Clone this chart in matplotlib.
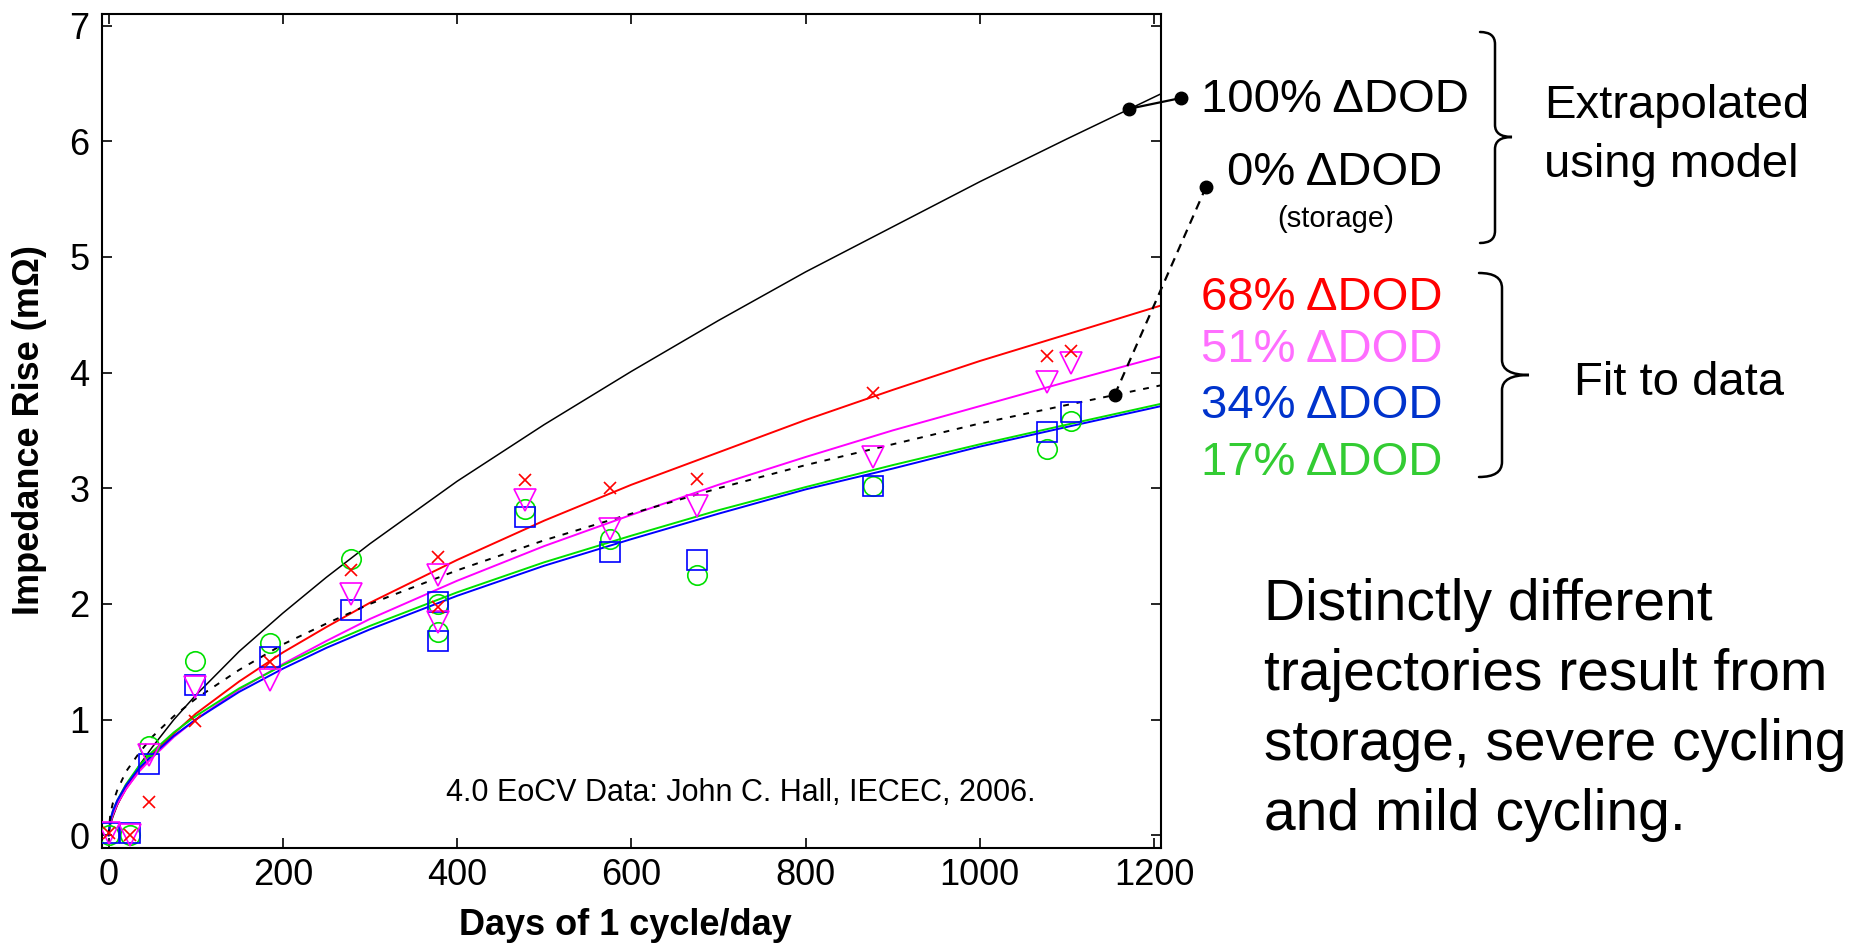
import matplotlib
matplotlib.use("Agg")
import matplotlib.pyplot as plt
from matplotlib.path import Path
from matplotlib.patches import PathPatch


# measured observations (days on test, impedance rise in mOhm)
obsDays = [0, 25, 47, 99, 185, 278, 378, 378, 478, 575, 675, 877, 1077, 1105]
obs68 = [0.02, 0.0, 0.29, 0.99, 1.50, 2.29, 2.41, 1.97, 3.07, 3.00, 3.08, 3.82, 4.14, 4.19]
obs51 = [0.02, 0.0, 0.69, 1.28, 1.34, 2.09, 2.25, 1.84, 2.90, 2.65, 2.85, 3.27, 3.92, 4.08]
obs34 = [0.02, 0.02, 0.62, 1.30, 1.54, 1.95, 2.02, 1.68, 2.75, 2.45, 2.38, 3.02, 3.49, 3.66]
obs17 = [0.0, 0.0, 0.77, 1.51, 1.66, 2.39, 2.00, 1.76, 2.82, 2.56, 2.25, 3.02, 3.34, 3.58]

# model curves
curveDays = [0, 2, 5, 10, 20, 35, 50, 75, 100, 150, 200, 250, 300, 400, 500, 600, 700, 800, 900, 1000, 1100, 1208]
fit100 = [0, 0.09, 0.16, 0.26, 0.41, 0.60, 0.76, 1.00, 1.21, 1.59, 1.92, 2.23, 2.52, 3.06, 3.55, 4.01, 4.45, 4.87, 5.26, 5.65, 6.02, 6.41]
fit68 = [0, 0.10, 0.18, 0.27, 0.40, 0.56, 0.70, 0.88, 1.05, 1.33, 1.58, 1.80, 2.01, 2.38, 2.72, 3.03, 3.31, 3.59, 3.85, 4.10, 4.33, 4.58]
fit51 = [0, 0.11, 0.18, 0.27, 0.40, 0.55, 0.67, 0.85, 1.00, 1.26, 1.48, 1.68, 1.87, 2.20, 2.50, 2.77, 3.03, 3.27, 3.50, 3.71, 3.92, 4.14]
fit34 = [0, 0.13, 0.21, 0.30, 0.43, 0.58, 0.69, 0.86, 1.00, 1.24, 1.44, 1.62, 1.78, 2.07, 2.33, 2.56, 2.78, 2.99, 3.17, 3.36, 3.53, 3.71]
fit17 = [0, 0.13, 0.21, 0.30, 0.44, 0.60, 0.72, 0.89, 1.03, 1.27, 1.47, 1.65, 1.81, 2.10, 2.36, 2.59, 2.81, 3.01, 3.20, 3.38, 3.55, 3.73]
fit0 = [0, 0.18, 0.28, 0.39, 0.55, 0.71, 0.85, 1.03, 1.18, 1.43, 1.65, 1.83, 2.00, 2.29, 2.55, 2.78, 3.00, 3.20, 3.38, 3.56, 3.72, 3.89]

xTicks = [0, 200, 400, 600, 800, 1000, 1200]
yTicks = [0, 1, 2, 3, 4, 5, 6, 7]

noteLines = ["Distinctly different", "trajectories result from", "storage, severe cycling", "and mild cycling."]

figW, figH = 1874, 943

plt.rcParams["font.family"] = ["Liberation Sans", "DejaVu Sans"]


def px(x, y):
    # image pixel (top-left origin) -> figure fraction
    return (x / figW, 1 - y / figH)


def drawBrace(fig, xEnd, xMid, xTip, yTop, yTip, yBot, r):
    pts = [(xEnd, yTop), (xMid, yTop), (xMid, yTop + r),
           (xMid, yTip - r), (xMid, yTip), (xTip, yTip),
           (xMid, yTip), (xMid, yTip + r),
           (xMid, yBot - r), (xMid, yBot), (xEnd, yBot)]
    codes = [Path.MOVETO, Path.CURVE3, Path.CURVE3,
             Path.LINETO, Path.CURVE3, Path.CURVE3,
             Path.CURVE3, Path.CURVE3,
             Path.LINETO, Path.CURVE3, Path.CURVE3]
    path = Path([px(*p) for p in pts], codes)
    fig.add_artist(PathPatch(path, transform = fig.transFigure, fill = False,
                             edgecolor = "black", linewidth = 1.8, capstyle = "round"))


def drawPointer(ax, dataXY, outerPx, style):
    outer = ax.transData.inverted().transform((outerPx[0], figH - outerPx[1]))
    ax.plot([dataXY[0], outer[0]], [dataXY[1], outer[1]], color = "black", linewidth = 1.6,
            linestyle = style, marker = "o", markersize = 9, clip_on = False, zorder = 6)


fig = plt.figure(figsize = (figW / 100, figH / 100), dpi = 100, facecolor = "white")
ax = fig.add_axes([102 / figW, 1 - 848 / figH, (1161 - 102) / figW, (848 - 14) / figH])

ax.set_xlim(-7.5, 1208)
ax.set_ylim(-0.11, 7.1)

# data markers
mew = 1.2
ax.plot(obsDays, obs17, linestyle = "none", marker = "o", markersize = 14, mfc = "none", mec = "#00e000", mew = mew, zorder = 3)
ax.plot(obsDays, obs34, linestyle = "none", marker = "s", markersize = 15, mfc = "none", mec = "#0000ff", mew = mew, zorder = 3)
ax.plot(obsDays, obs51, linestyle = "none", marker = "v", markersize = 16, mfc = "none", mec = "#ff00ff", mew = mew, zorder = 3)
ax.plot(obsDays, obs68, linestyle = "none", marker = "x", markersize = 8, mfc = "none", mec = "#ff0000", mew = mew, zorder = 3)

# model curves
lw = 1.4
ax.plot(curveDays, fit100, color = "black", linewidth = 1.1, zorder = 2)
ax.plot(curveDays, fit68, color = "#ff0000", linewidth = lw, zorder = 2)
ax.plot(curveDays, fit51, color = "#ff00ff", linewidth = lw, zorder = 2)
ax.plot(curveDays, fit17, color = "#00e000", linewidth = lw, zorder = 2)
ax.plot(curveDays, fit34, color = "#0000ff", linewidth = lw, zorder = 2)
ax.plot(curveDays, fit0, color = "black", linewidth = 1.4, linestyle = (0, (3, 4)), zorder = 2)

ax.set_xticks(xTicks)
ax.set_yticks(yTicks)
ax.tick_params(direction = "in", length = 7, width = 1.2, top = True, right = True,
               labelsize = 26)
ax.tick_params(axis = "x", pad = 7)
ax.tick_params(axis = "y", pad = 9)

for spine in ax.spines.values():
    spine.set_linewidth(1.5)

ax.text(446 / figW, 1 - 801 / figH, "4.0 EoCV Data: John C. Hall, IECEC, 2006.",
        transform = fig.transFigure, fontsize = 22, va = "baseline", ha = "left")

# axis labels
fig.text(625 / figW, 1 - 935 / figH, "Days of 1 cycle/day", fontsize = 26, fontweight = "bold",
         ha = "center", va = "baseline")
fig.text(30 / figW, 1 - 430 / figH, "Impedance Rise (m\u03a9)", fontsize = 26, fontweight = "bold",
         ha = "center", va = "center", rotation = 90)

# pointers from the extrapolated curves to their labels
drawPointer(ax, (1171, 6.28), (1181, 98), "-")
drawPointer(ax, (1155, 3.81), (1206, 187), (0, (4, 3)))

# right-hand labels
bigSize = 34
fig.text(*px(1201, 112), "100% \u0394DOD", fontsize = bigSize, va = "baseline", ha = "left")
fig.text(*px(1227, 185), "0% \u0394DOD", fontsize = bigSize, va = "baseline", ha = "left")
fig.text(*px(1336, 227), "(storage)", fontsize = 21, va = "baseline", ha = "center")
fig.text(*px(1201, 310), "68% \u0394DOD", fontsize = bigSize, va = "baseline", ha = "left", color = "#ff0000")
fig.text(*px(1201, 362), "51% \u0394DOD", fontsize = bigSize, va = "baseline", ha = "left", color = "#ff6eff")
fig.text(*px(1201, 418), "34% \u0394DOD", fontsize = bigSize, va = "baseline", ha = "left", color = "#0033cc")
fig.text(*px(1201, 475), "17% \u0394DOD", fontsize = bigSize, va = "baseline", ha = "left", color = "#33cc33")

fig.text(*px(1544, 118), "Extrapolated", fontsize = bigSize, va = "baseline", ha = "left")
fig.text(*px(1544, 177), "using model", fontsize = bigSize, va = "baseline", ha = "left")
fig.text(*px(1574, 395), "Fit to data", fontsize = bigSize, va = "baseline", ha = "left")

drawBrace(fig, 1480, 1495, 1512, 32, 137, 243, 12)
drawBrace(fig, 1479, 1502, 1529, 273, 375, 477, 15)

# takeaway note, one baseline per line
for i, line in enumerate(noteLines):
    fig.text(*px(1264, 620 + 70 * i), line, fontsize = 41, va = "baseline", ha = "left")

fig.savefig("out.png", dpi = 100, facecolor = "white")
